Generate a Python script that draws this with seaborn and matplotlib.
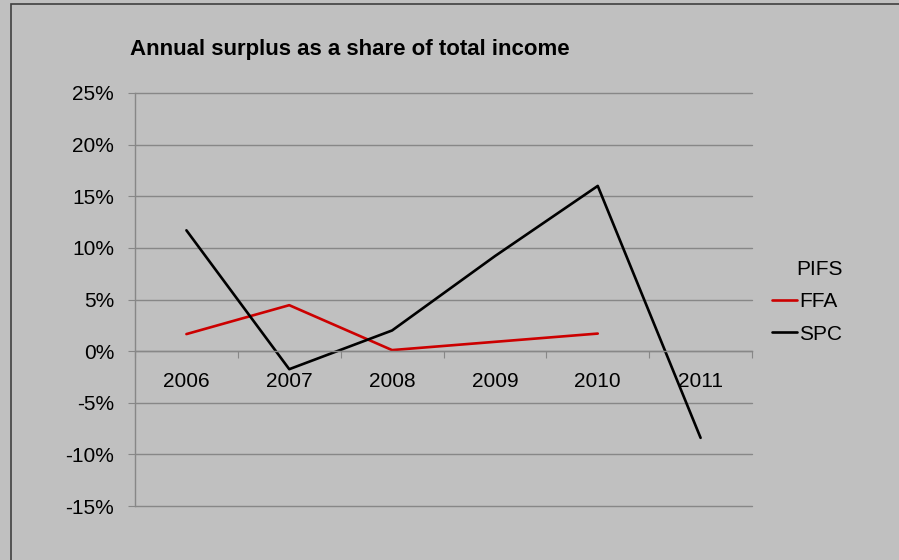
import matplotlib
matplotlib.use("Agg")
import matplotlib.pyplot as plt
from matplotlib.patches import Rectangle
from matplotlib.ticker import FixedLocator, FuncFormatter
import seaborn as sns
import pandas as pd

years = ["2006", "2007", "2008", "2009", "2010", "2011"]
ffa = [1.65, 4.45, 0.1, 0.9, 1.7, None]
spc = [11.7, -1.75, 2.0, 9.2, 16.0, -8.4]

rows = []
for i, y in enumerate(years):
    if ffa[i] is not None:
        rows.append({"pos": i, "value": ffa[i] / 100, "PIFS": "FFA"})
    rows.append({"pos": i, "value": spc[i] / 100, "PIFS": "SPC"})
df = pd.DataFrame(rows)

sns.set_theme(style="white")
plt.rcParams["font.family"] = ["Liberation Sans", "DejaVu Sans"]
plt.rcParams["text.color"] = "black"

BG = "#C0C0C0"
GRID = "#878787"

fig = plt.figure(figsize=(8.99, 5.60), dpi=100, facecolor=BG)
ax = fig.add_axes([135 / 899, 1 - 506 / 560, (752 - 135) / 899, (506 - 93) / 560])
ax.set_facecolor(BG)

# outer chart frame
fig.patches.append(Rectangle((11 / 899, -0.05), 1.2, 1 - 4 / 560 + 0.05,
                             transform=fig.transFigure, fill=False,
                             edgecolor="#404040", linewidth=1.2, zorder=0))

sns.lineplot(data=df, x="pos", y="value", hue="PIFS",
             palette={"FFA": "#CC0000", "SPC": "black"},
             linewidth=1.9, ax=ax, sort=False)

ax.set_xlim(-0.5, 5.5)
ax.set_ylim(-0.15, 0.25)
ax.set_xlabel("")
ax.set_ylabel("")

# y axis: percentage ticks with gridlines
yt = [-0.15, -0.10, -0.05, 0, 0.05, 0.10, 0.15, 0.20, 0.25]
ax.yaxis.set_major_locator(FixedLocator(yt))
ax.yaxis.set_major_formatter(FuncFormatter(lambda v, p: f"{int(round(v * 100))}%"))
ax.grid(axis="y", color=GRID, linewidth=1.0)
ax.set_axisbelow(True)
for gl in ax.get_ygridlines():
    gl.set_clip_on(False)
ax.tick_params(axis="y", direction="out", length=5, width=0.8, color=GRID,
               pad=10, labelsize=15, labelcolor="black", left=True)

# x axis sits on the zero line; ticks mark category boundaries
for s in ["top", "right"]:
    ax.spines[s].set_visible(False)
ax.spines["bottom"].set_position(("data", 0))
ax.spines["bottom"].set_color(GRID)
ax.spines["left"].set_color(GRID)
ax.spines["bottom"].set_linewidth(1.0)
ax.spines["left"].set_linewidth(1.0)
ax.set_xticks([x - 0.5 for x in range(7)])
ax.set_xticklabels([])
ax.set_xticks(range(len(years)), minor=True)
ax.set_xticklabels(years, minor=True)
ax.tick_params(axis="x", which="major", direction="out", length=5, width=0.8,
               color=GRID, bottom=True)
ax.tick_params(axis="x", which="minor", length=0, pad=15, labelsize=15,
               labelcolor="black", bottom=True)

fig.text(130 / 899, 1 - 50 / 560, "Annual surplus as a share of total income",
         fontsize=16, fontweight="bold", ha="left", va="center", color="black")

leg = ax.legend(title="PIFS", loc="center left", bbox_to_anchor=(1.002, 0.495),
                frameon=False, fontsize=15, title_fontsize=15,
                handlelength=1.2, handletextpad=0.12, labelspacing=0.65,
                labelcolor="black")
leg.get_title().set_color("black")
leg._legend_box.align = "right"

fig.savefig("out.png", dpi=100, facecolor=BG)
